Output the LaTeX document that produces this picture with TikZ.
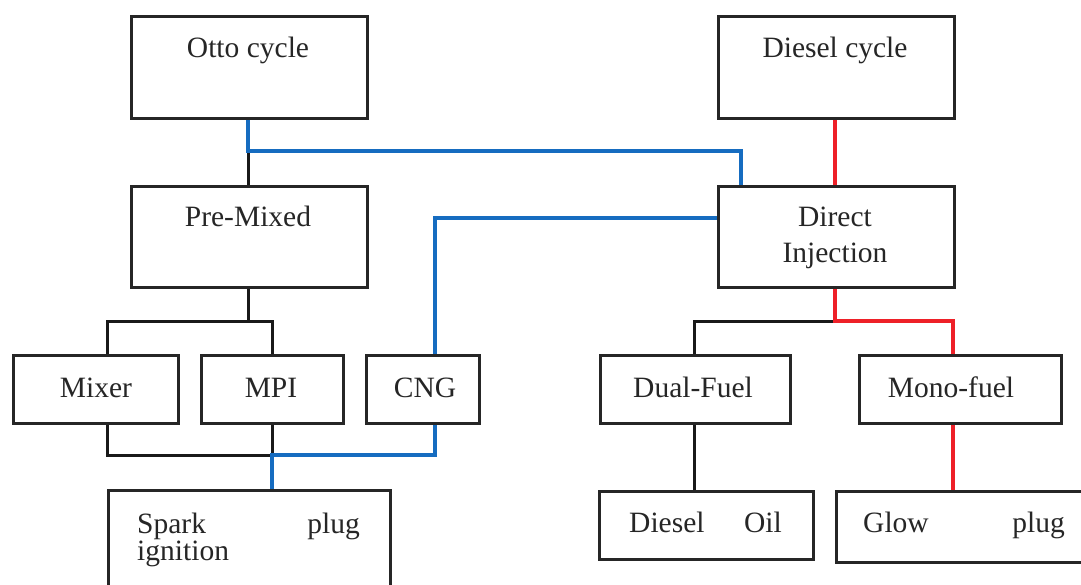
\documentclass[tikz,border=0pt]{standalone}
\usepackage{fontspec}
\setmainfont{Liberation Serif}
\definecolor{lblue}{RGB}{22,108,192}
\definecolor{lred}{RGB}{238,32,40}
\begin{document}
\begin{tikzpicture}[x=1pt,y=-1pt,
  box/.style={draw=black!85,line width=3pt,inner sep=0pt,anchor=north west,fill=none},
  lbl/.style={inner sep=0pt,font=\rmfamily\fontsize{29.5}{35}\selectfont,text=black!85},
  blk/.style={draw=black!90,line width=3pt},
  bl/.style={draw=lblue,line width=4.4pt},
  rd/.style={draw=lred,line width=4.4pt}]
\useasboundingbox[fill=white] (0,0) rectangle (1081,585);
% boxes
\node[box,minimum width=236pt,minimum height=102pt] (otto) at (130,15) {};
\node[box,minimum width=236pt,minimum height=102pt] (diesel) at (717,15) {};
\node[box,minimum width=236pt,minimum height=101pt] (pre) at (130,185) {};
\node[box,minimum width=236pt,minimum height=101pt] (direct) at (717,185) {};
\node[box,minimum width=165pt,minimum height=68pt] (mixer) at (12,354) {};
\node[box,minimum width=142pt,minimum height=68pt] (mpi) at (200,354) {};
\node[box,minimum width=113pt,minimum height=68pt] (cng) at (365,354) {};
\node[box,minimum width=190pt,minimum height=68pt] (dual) at (599,354) {};
\node[box,minimum width=202pt,minimum height=68pt] (mono) at (858,354) {};
\node[box,minimum width=282pt,minimum height=120pt] (spark) at (107,489) {};
\node[box,minimum width=214pt,minimum height=68pt] (doil) at (598,490) {};
\node[box,minimum width=260pt,minimum height=71pt] (glow) at (835,490) {};
% labels
\node[lbl,anchor=base] (t1) at (248,58) {Otto cycle};
\node[lbl,anchor=base] (t2) at (835,58) {Diesel cycle};
\node[lbl,anchor=base] (t3) at (248,227) {Pre-Mixed};
\node[lbl,anchor=base] (t4) at (835,227) {Direct};
\node[lbl,anchor=base] (t5) at (835,262) {Injection};
\node[lbl,anchor=base] (t6) at (96,397) {Mixer};
\node[lbl,anchor=base] (t7) at (271,397) {MPI};
\node[lbl,anchor=base] (t8) at (425,397) {CNG};
\node[lbl,anchor=base] (t9) at (693,397) {Dual-Fuel};
\node[lbl,anchor=base] (t10) at (951,397) {Mono-fuel};
\node[lbl,anchor=base west] (t11) at (137,533) {Spark};
\node[lbl,anchor=base east] (t12) at (360,533) {plug};
\node[lbl,anchor=base west] (t13) at (137,560) {ignition};
\node[lbl,anchor=base west] (t14) at (629,532) {Diesel};
\node[lbl,anchor=base east] (t15) at (782,532) {Oil};
\node[lbl,anchor=base west] (t16) at (863,532) {Glow};
\node[lbl,anchor=base east] (t17) at (1065,532) {plug};
% junction coordinates
\coordinate (jo) at (248,151);
\coordinate (jdtop) at (741,185);
\coordinate (jcng) at (435,218);
\coordinate (jp) at (248,321);
\coordinate (jpl) at (107,321);
\coordinate (jpr) at (272,321);
\coordinate (jml) at (107,455);
\coordinate (jmr) at (272,455);
\coordinate (jcb) at (435,455);
\coordinate (jd) at (835,321);
\coordinate (jdl) at (694,321);
\coordinate (jdr) at (953,321);
% black connectors
\draw[blk] (jo) -- (jo |- pre.north);
\draw[blk] (jp |- pre.south) -- (jp);
\draw[blk] (jpl |- mixer.north) -- (jpl) -- (jpr) -- (jpr |- mpi.north);
\draw[blk] (jml |- mixer.south) -- (jml) -- (jmr);
\draw[blk] (jmr |- mpi.south) -- (jmr);
\draw[blk] (jd) -- (jdl) -- (jdl |- dual.north);
\draw[blk] (dual.south -| jdl) -- (jdl |- doil.north);
% blue connectors
\draw[bl] (otto.south -| jo) -- (jo) -| (jdtop);
\draw[bl] (direct.west |- jcng) -- (jcng) -- (jcng |- cng.north);
\draw[bl] (jcng |- cng.south) -- (jcb) -- (jmr) -- (jmr |- spark.north);
% red connectors
\draw[rd] (diesel.south -| jd) -- (jd |- direct.north);
\draw[rd] (jd |- direct.south) -- (jd) -- (jdr) -- (jdr |- mono.north);
\draw[rd] (jdr |- mono.south) -- (jdr |- glow.north);
\end{tikzpicture}
\end{document}
